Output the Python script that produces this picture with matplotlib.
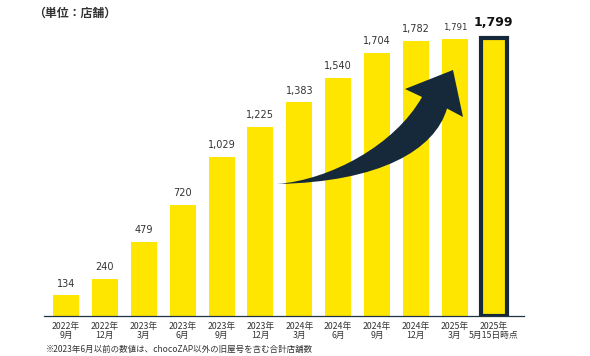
import matplotlib
matplotlib.use("Agg")
import matplotlib.pyplot as plt
from matplotlib.path import Path
from matplotlib.patches import PathPatch
from matplotlib.transforms import Affine2D

plt.rcParams['font.family'] = ['Noto Sans CJK JP', 'DejaVu Sans']

years = ["2022年", "2022年", "2023年", "2023年", "2023年", "2023年",
         "2024年", "2024年", "2024年", "2024年", "2025年", "2025年"]
periods = ["9月", "12月", "3月", "6月", "9月", "12月",
           "3月", "6月", "9月", "12月", "3月", "5月15日時点"]
stores = [134, 240, 479, 720, 1029, 1225, 1383, 1540, 1704, 1782, 1791, 1799]
value_labels = ["134", "240", "479", "720", "1,029", "1,225", "1,383",
                "1,540", "1,704", "1,782", "1,791", "1,799"]
title_text = "（単位：店舗）"
note_text = "※2023年6月以前の数値は、chocoZAP以外の旧屋号を含む合計店舗数"

YELLOW = "#FFE600"
NAVY = "#15293B"
TXT = "#333333"

W, H = 590, 356
fig = plt.figure(figsize=(W / 100, H / 100), dpi=100)
ax = fig.add_axes([44 / W, 40 / H, 480 / W, 316 / H])

x = list(range(len(stores)))
n = len(stores)
ax.bar(x[:-1], stores[:-1], width=0.669, color=YELLOW, linewidth=0, zorder=2)
ax.bar(x[-1], stores[-1], width=0.669, color=YELLOW,
       edgecolor=NAVY, linewidth=3.0, zorder=2)

ax.set_xlim(-0.566, 11.78)
ax.set_ylim(0, 2045)

for s in ["top", "right", "left"]:
    ax.spines[s].set_visible(False)
ax.spines["bottom"].set_color("#1f3344")
ax.spines["bottom"].set_linewidth(0.9)
ax.set_yticks([])
ax.set_xticks(x)
ax.set_xticklabels([f"{a}\n{b}" for a, b in zip(years, periods)],
                   fontsize=6.3, color=TXT, linespacing=1.05)
ax.tick_params(axis="x", length=0, pad=4.4)

for i, (v, lab) in enumerate(zip(stores, value_labels)):
    if i == n - 1:
        ax.annotate(lab, (i, v), xytext=(0, 8.5), textcoords="offset points",
                    ha="center", va="baseline", fontsize=9, fontweight="bold",
                    color="#111111", family="DejaVu Sans")
    elif i == n - 2:
        ax.annotate(lab, (i, v), xytext=(0, 7.0), textcoords="offset points",
                    ha="center", va="baseline", fontsize=6.2,
                    color=TXT, family="DejaVu Sans")
    else:
        ax.annotate(lab, (i, v), xytext=(0, 6.3), textcoords="offset points",
                    ha="center", va="baseline", fontsize=7,
                    color=TXT, family="DejaVu Sans")

# decorative curved arrow (pixel coordinates of the figure, y downwards)
pix = Affine2D().scale(1 / W, -1 / H).translate(0, 1) + fig.transFigure
verts = [
    (277, 184),
    (330, 180), (395, 145), (422, 97),
    (405, 89),
    (453, 70),
    (463, 117),
    (447, 108.5),
    (435, 150), (380, 182), (277, 184),
    (277, 184),
]
codes = [Path.MOVETO,
         Path.CURVE4, Path.CURVE4, Path.CURVE4,
         Path.LINETO, Path.LINETO, Path.LINETO, Path.LINETO,
         Path.CURVE4, Path.CURVE4, Path.CURVE4,
         Path.CLOSEPOLY]
arrow = PathPatch(Path(verts, codes), facecolor=NAVY, edgecolor="none",
                  transform=pix, zorder=5)
fig.patches.append(arrow)

fig.text(33 / W, 1 - 13.5 / H, title_text, fontsize=8.6, fontweight="bold",
         color=TXT, ha="left", va="center")
fig.text(46 / W, 1 - 349.5 / H, note_text, fontsize=6.1, color=TXT,
         ha="left", va="center")

fig.savefig("out.png", dpi=100)
